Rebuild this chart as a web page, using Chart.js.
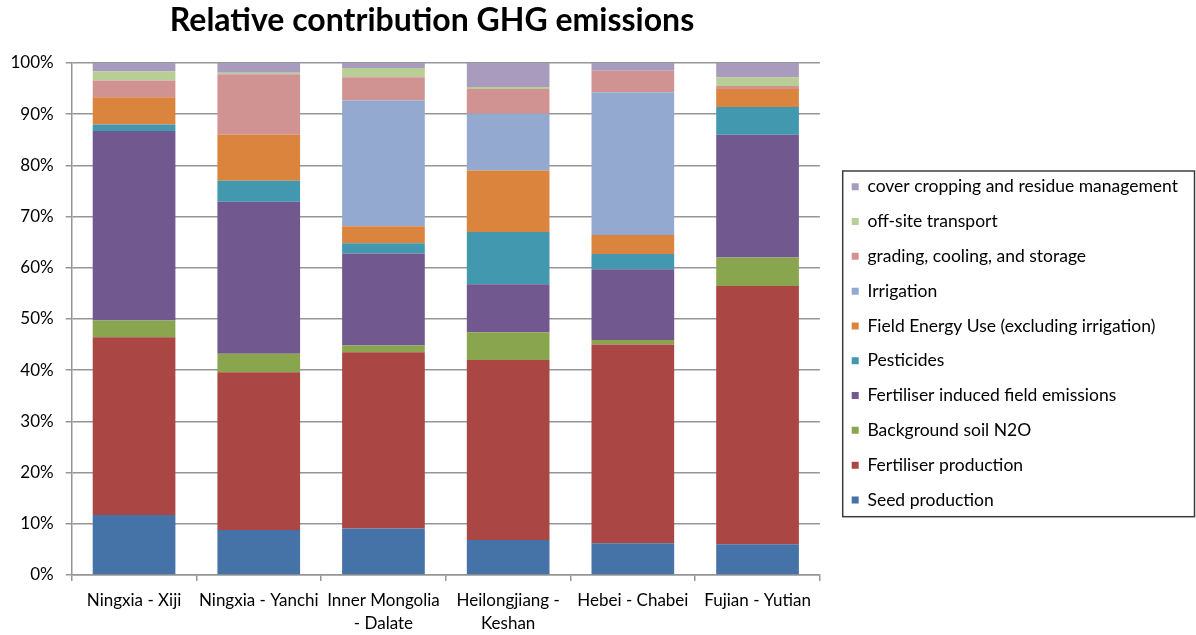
<!DOCTYPE html>
<html>
<head>
<meta charset="utf-8">
<script src="https://cdn.jsdelivr.net/npm/chart.js@4/dist/chart.umd.min.js"></script>
<style>
  html, body { margin: 0; padding: 0; background: #ffffff; }
  #wrap { width: 1196px; height: 635px; position: relative; }
</style>
</head>
<body>
<div id="wrap"><canvas id="c" width="1196" height="635"></canvas></div>
<script>
// Regions (x axis categories); arrays give multi-line labels
const categories = [
  'Ningxia - Xiji',
  'Ningxia - Yanchi',
  ['Inner Mongolia', '- Dalate'],
  ['Heilongjiang -', 'Keshan'],
  'Hebei - Chabei',
  'Fujian - Yutian'
];

// Share of total GHG emissions per source (%), one value per region
const seedProduction      = [11.7,  8.8,  9.1,  6.85,  6.2,  6.0];
const fertProduction      = [34.75, 30.8, 34.4, 35.15, 38.8, 50.45];
const backgroundSoilN2O   = [3.25,  3.6,  1.3,  5.4,   0.9,  5.55];
const fertFieldEmissions  = [37.0,  29.7, 18.0, 9.4,   13.8, 24.0];
const pesticides          = [1.3,   4.1,  2.0,  10.2,  3.0,  5.4];
const fieldEnergyUse      = [5.3,   9.0,  3.3,  12.0,  3.7,  3.5];
const irrigation          = [0,     0,    24.6, 11.1,  27.9, 0];
const gradingCooling      = [3.3,   11.8, 4.5,  4.8,   4.2,  0.6];
const offSiteTransport    = [1.8,   0.3,  1.8,  0.4,   0,    1.7];
const coverCropping       = [1.6,   1.9,  1.0,  4.7,   1.5,  2.8];

// Y axis tick values (%)
const yTicks = [0, 10, 20, 30, 40, 50, 60, 70, 80, 90, 100];

const seriesNames = [
  'Seed production',
  'Fertiliser production',
  'Background soil N2O',
  'Fertiliser induced field emissions',
  'Pesticides',
  'Field Energy Use (excluding irrigation)',
  'Irrigation',
  'grading, cooling, and storage',
  'off-site transport',
  'cover cropping and residue management'
];
const seriesValues = [
  seedProduction, fertProduction, backgroundSoilN2O, fertFieldEmissions,
  pesticides, fieldEnergyUse, irrigation, gradingCooling, offSiteTransport, coverCropping
];
const seriesColors = [
  '#4572A7', '#AA4643', '#89A54E', '#71588F', '#4198AF',
  '#DB843D', '#93A9CF', '#D19392', '#B9CD96', '#A99BBD'
];

const FONT = 'Lato, "Open Sans", "DejaVu Sans", sans-serif';
const GRID = '#969696';

// Chart heading, drawn above the plot
const titlePlugin = {
  id: 'heading',
  afterDraw(chart) {
    const ctx = chart.ctx;
    ctx.save();
    ctx.font = 'bold 32px ' + FONT;
    ctx.fillStyle = '#000000';
    ctx.textAlign = 'center';
    ctx.textBaseline = 'alphabetic';
    ctx.fillText('Relative contribution GHG emissions', 432, 31);
    ctx.restore();
  }
};

// Frame around the legend entries
const legendFramePlugin = {
  id: 'legendFrame',
  afterDraw(chart) {
    const lg = chart.legend;
    if (!lg || !lg.legendHitBoxes || !lg.legendHitBoxes.length) return;
    const boxes = lg.legendHitBoxes;
    const first = boxes[0];
    const last = boxes[boxes.length - 1];
    const ctx = chart.ctx;
    const left = first.left - 9;
    const right = chart.width - 1.5;
    const top = first.top - 7;
    const bottom = last.top + last.height + 8;
    ctx.save();
    ctx.strokeStyle = '#3c3c3c';
    ctx.lineWidth = 1.5;
    ctx.strokeRect(left, top, right - left, bottom - top);
    ctx.restore();
  }
};

new Chart(document.getElementById('c'), {
  type: 'bar',
  data: {
    labels: categories,
    datasets: seriesNames.map((name, i) => ({
      label: name,
      data: seriesValues[i],
      backgroundColor: seriesColors[i],
      borderWidth: 0,
      barPercentage: 0.663,
      categoryPercentage: 1.0
    }))
  },
  options: {
    responsive: false,
    animation: false,
    devicePixelRatio: 1,
    layout: { padding: { top: 63, left: -1.5, right: 8, bottom: 3 } },
    plugins: {
      title: { display: false },
      tooltip: { enabled: false },
      legend: {
        position: 'right',
        align: 'start',
        reverse: true,
        maxWidth: 420,
        // empty heading used only as top spacing for the entry list
        title: { display: true, text: '', font: { size: 1 }, padding: { top: 96.5, bottom: 0 } },
        labels: {
          boxWidth: 7,
          boxHeight: 7,
          padding: 17.3,
          color: '#000000',
          font: { family: FONT, size: 17.5 }
        }
      }
    },
    scales: {
      x: {
        stacked: true,
        offset: true,
        afterFit(scale) { scale.height = 57; },
        grid: {
          display: true,
          drawOnChartArea: false,
          drawTicks: true,
          tickLength: 6,
          color: GRID,
          lineWidth: 1.5
        },
        border: { display: true, color: GRID, width: 1.5 },
        ticks: {
          color: '#000000',
          font: { family: FONT, size: 17, lineHeight: 1.35 },
          maxRotation: 0,
          minRotation: 0,
          autoSkip: false,
          padding: 8
        }
      },
      y: {
        stacked: true,
        min: 0,
        max: 100,
        afterBuildTicks(scale) {
          scale.ticks = yTicks.map(v => ({ value: v }));
        },
        grid: {
          color: GRID,
          lineWidth: 1.5,
          drawTicks: true,
          tickLength: 6
        },
        border: { display: true, color: GRID, width: 1.5 },
        ticks: {
          color: '#000000',
          font: { family: FONT, size: 17 },
          padding: 12,
          callback: v => v + '%'
        }
      },
      gap: {
        position: 'right',
        display: true,
        grid: { display: false },
        border: { display: false },
        ticks: { display: false },
        afterFit(scale) { scale.width = 14.5; }
      }
    }
  },
  plugins: [titlePlugin, legendFramePlugin]
});
</script>
</body>
</html>
